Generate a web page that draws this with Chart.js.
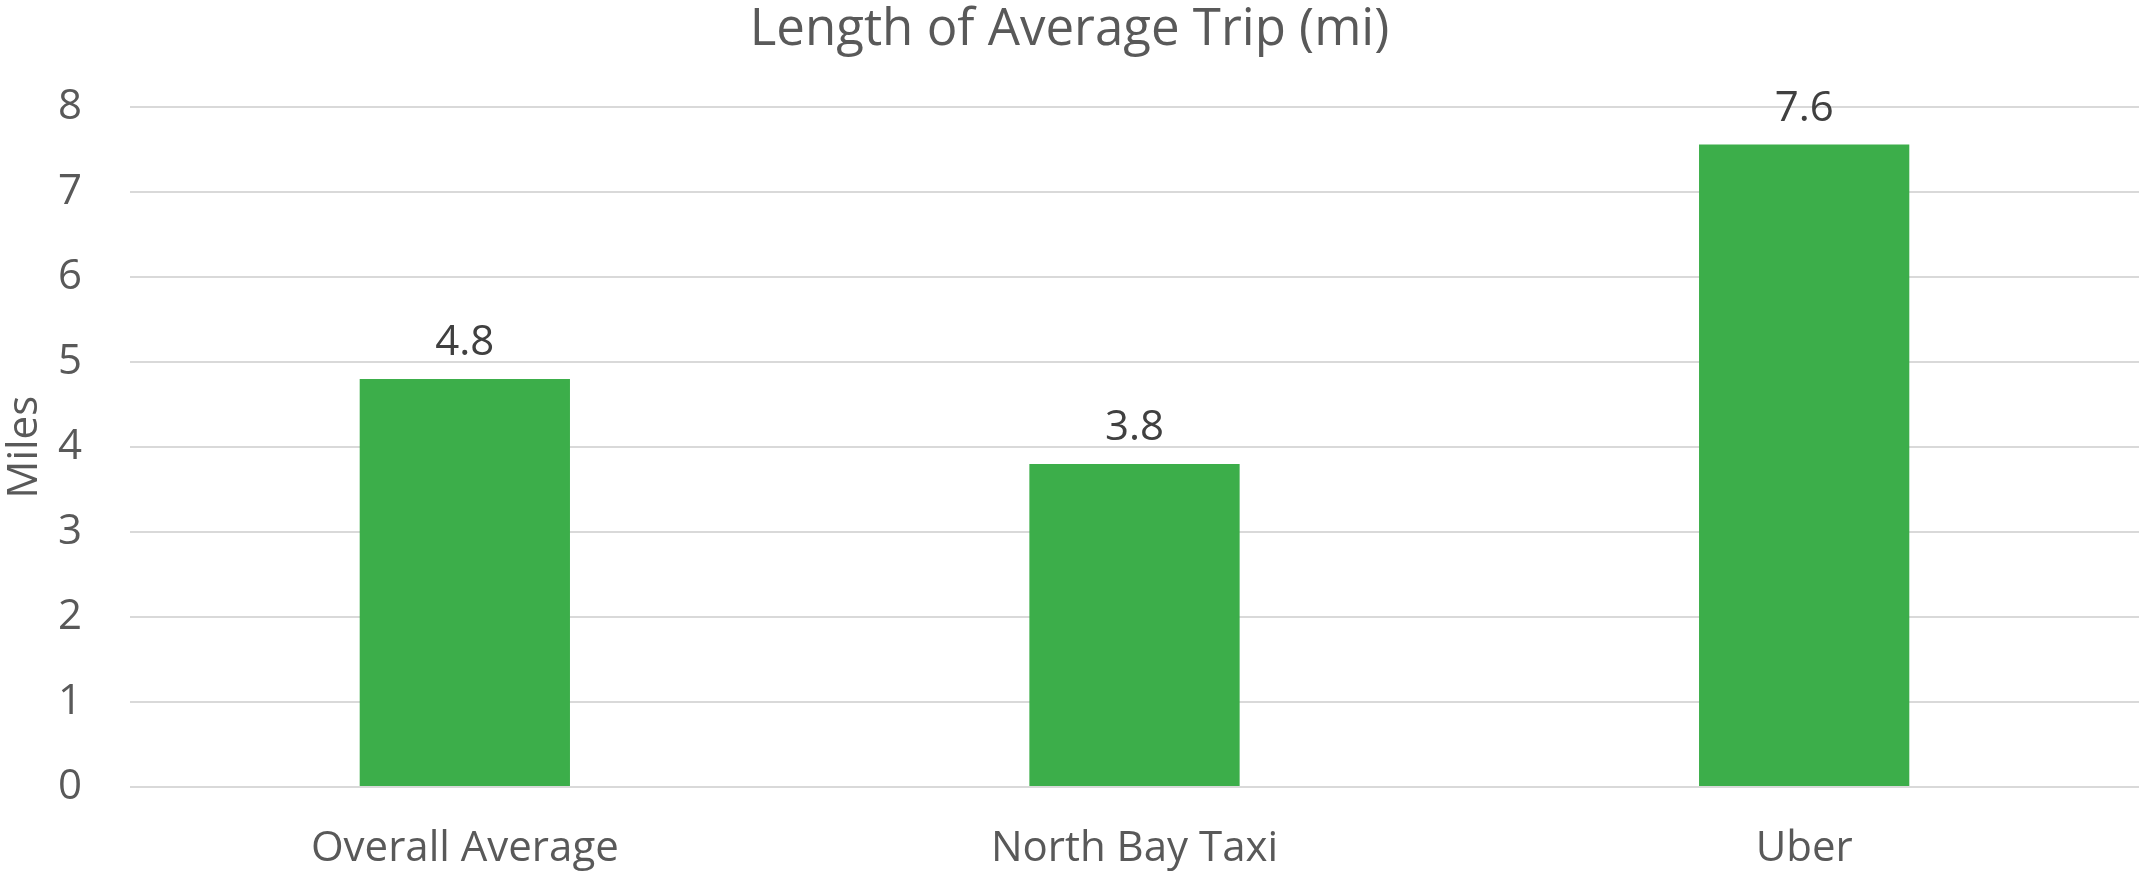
<!DOCTYPE html>
<html>
<head>
<meta charset="utf-8">
<title>Length of Average Trip (mi)</title>
<script src="https://cdn.jsdelivr.net/npm/chart.js@4/dist/chart.umd.min.js"></script>
<style>
    html, body { margin: 0; padding: 0; background: #ffffff; }
    #wrap { width: 2139px; height: 873px; position: relative; }
</style>
</head>
<body>
<div id="wrap"><canvas id="tripChart"></canvas></div>
<script>
const categories = ['Overall Average', 'North Bay Taxi', 'Uber'];
const milesValues = [4.8, 3.8, 7.56];
const yMin = 0;
const yMax = 8;
const yStep = 1;

const barColor = '#3CAE4A';
const textColor = '#595959';
const labelColor = '#404040';
const fontFamily = '"Open Sans", "Liberation Sans", sans-serif';

// draws the value above each bar (no datalabels plugin available offline)
const barLabels = {
    id: 'barLabels',
    afterDatasetsDraw(chart) {
        const ctx = chart.ctx;
        const meta = chart.getDatasetMeta(0);
        ctx.save();
        ctx.font = '42px ' + fontFamily;
        ctx.fillStyle = labelColor;
        ctx.textAlign = 'center';
        ctx.textBaseline = 'alphabetic';
        meta.data.forEach((bar, i) => {
            ctx.fillText(milesValues[i].toFixed(1), bar.x, bar.y - 24);
        });
        ctx.restore();
    }
};

const ctx = document.getElementById('tripChart').getContext('2d');
new Chart(ctx, {
    type: 'bar',
    data: {
        labels: categories,
        datasets: [{
            label: 'Miles',
            data: milesValues,
            backgroundColor: barColor,
            borderWidth: 0,
            categoryPercentage: 1,
            barPercentage: 0.314
        }]
    },
    options: {
        responsive: true,
        maintainAspectRatio: false,
        animation: false,
        layout: { padding: 0 },
        plugins: {
            legend: { display: false },
            tooltip: { enabled: false },
            title: {
                display: true,
                text: 'Length of Average Trip (mi)',
                color: textColor,
                font: { family: fontFamily, size: 51, weight: 'normal' },
                padding: { top: 0, bottom: 46 }
            }
        },
        scales: {
            x: {
                grid: { display: false },
                border: { display: false },
                ticks: {
                    color: textColor,
                    font: { family: fontFamily, size: 42 },
                    padding: 29,
                    maxRotation: 0
                },
                afterFit(scale) { scale.height = 86; }
            },
            y: {
                min: yMin,
                max: yMax,
                grid: { color: '#d9d9d9', lineWidth: 2, drawTicks: false },
                border: { display: false },
                ticks: {
                    stepSize: yStep,
                    color: textColor,
                    font: { family: fontFamily, size: 42 },
                    padding: 48
                },
                title: {
                    display: true,
                    text: 'Miles',
                    color: textColor,
                    font: { family: fontFamily, size: 42 },
                    padding: 0
                },
                afterFit(scale) { scale.width = 130; }
            }
        }
    },
    plugins: [barLabels]
});
</script>
</body>
</html>
